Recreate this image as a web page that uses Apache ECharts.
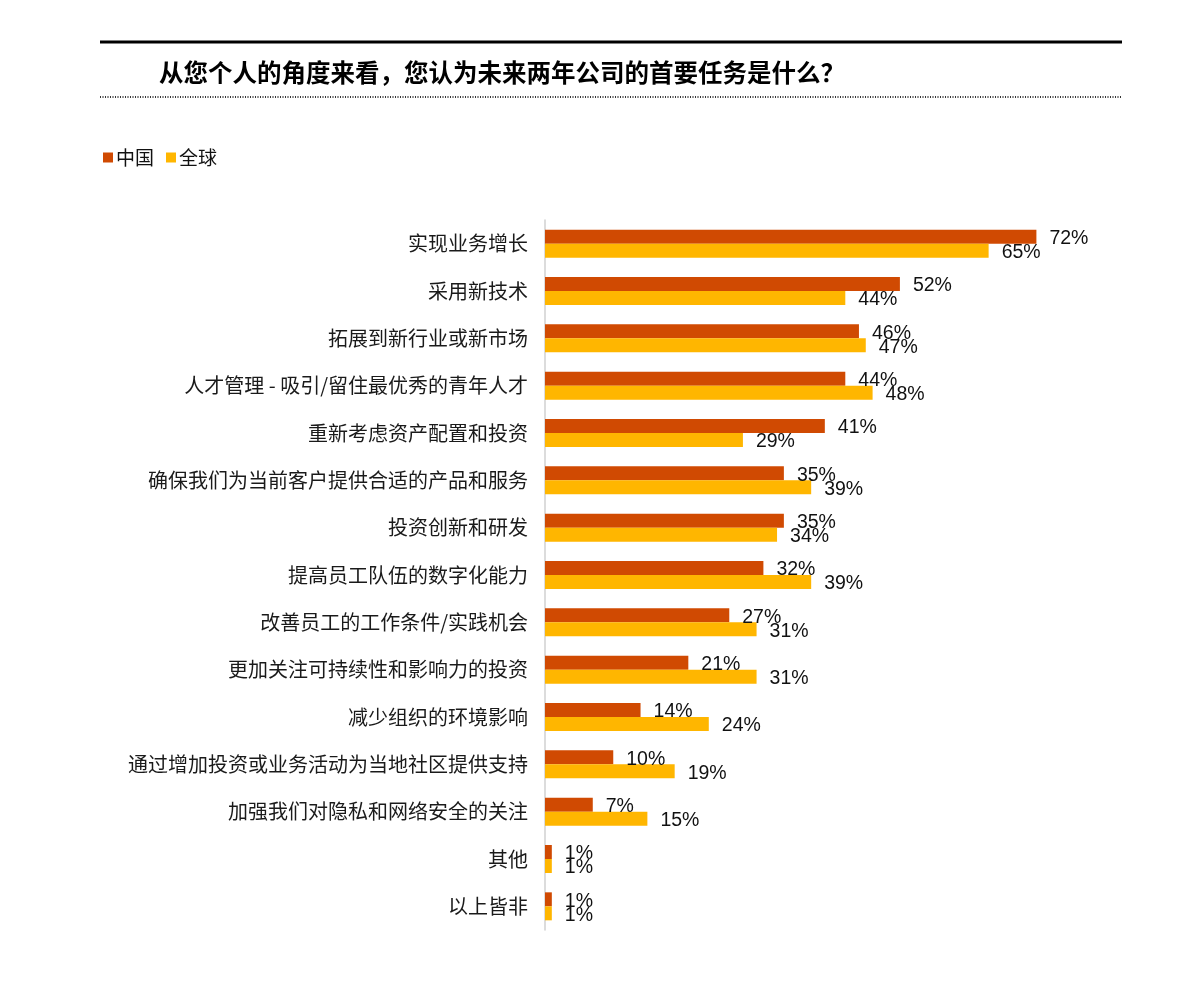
<!DOCTYPE html>
<html><head><meta charset="utf-8">
<script src="https://cdn.jsdelivr.net/npm/echarts@6/dist/echarts.min.js"></script>
<style>html,body{margin:0;padding:0;background:#fff;}#c{width:1197px;height:988px;}</style>
</head><body><div id="c"></div>
<script>
const titleText = '从您个人的角度来看，您认为未来两年公司的首要任务是什么？';
const seriesNames = ['中国', '全球'];
const categories = ['实现业务增长','采用新技术','拓展到新行业或新市场','人才管理 - 吸引/留住最优秀的青年人才','重新考虑资产配置和投资','确保我们为当前客户提供合适的产品和服务','投资创新和研发','提高员工队伍的数字化能力','改善员工的工作条件/实践机会','更加关注可持续性和影响力的投资','减少组织的环境影响','通过增加投资或业务活动为当地社区提供支持','加强我们对隐私和网络安全的关注','其他','以上皆非'];
const chinaValues = [72,52,46,44,41,35,35,32,27,21,14,10,7,1,1];
const globalValues = [65,44,47,48,29,39,34,39,31,31,24,19,15,1,1];

const chart = echarts.init(document.getElementById('c'));
const labelStyle = {show:true, position:'right', distance:13, offset:[0,2], formatter:'{c}%', fontSize:19.5, color:'#111', fontFamily:'Liberation Sans, Arial, sans-serif'};
chart.setOption({
  animation:false,
  title:{text:titleText, left:154, top:55, textStyle:{fontSize:24.5, fontWeight:'bold', color:'#000', fontFamily:'Noto Sans CJK SC, sans-serif'}},
  legend:{data:seriesNames, left:98, top:143, icon:'rect', itemWidth:10, itemHeight:10, itemGap:12, textStyle:{fontSize:19, color:'#111', fontFamily:'Noto Sans CJK SC, sans-serif', padding:[0,0,0,-2]}},
  graphic:[
    {type:'line', shape:{x1:100,y1:42,x2:1122,y2:42}, style:{stroke:'#000', lineWidth:3}},
    {type:'line', shape:{x1:100,y1:97,x2:1122,y2:97}, style:{stroke:'#333', lineWidth:2, lineDash:[1,1.5]}}
  ],
  grid:{left:545, top:220, width:546, height:710, containLabel:false},
  xAxis:{type:'value', min:0, max:80, show:false},
  yAxis:{type:'category', data:categories, inverse:true,
    axisLine:{show:true, lineStyle:{color:'#d0d0d0', width:1.5}}, axisTick:{show:false},
    axisLabel:{fontSize:20, color:'#1a1a1a', margin:17, fontFamily:'Noto Sans CJK SC, sans-serif'}},
  series:[
    {name:seriesNames[0], type:'bar', data:chinaValues, barWidth:14, barGap:'0%', itemStyle:{color:'#D04A02'}, label:labelStyle},
    {name:seriesNames[1], type:'bar', data:globalValues, barWidth:14, barGap:'0%', itemStyle:{color:'#FFB600'}, label:labelStyle}
  ]
});
</script></body></html>
